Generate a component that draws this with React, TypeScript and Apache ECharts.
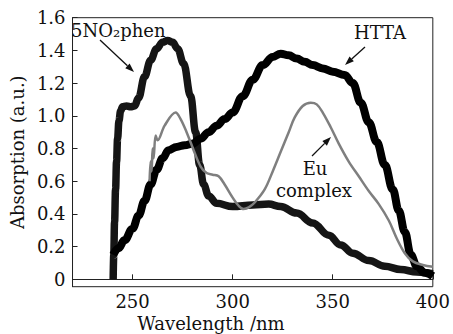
import React, { useEffect, useRef } from "react";
import * as echarts from "echarts";

// 5NO2phen (wavelength nm, absorption)
const phenWl = [240.3, 240.6, 241, 241.5, 242, 242.5, 243.2, 244, 245, 247, 249, 251, 253, 256, 259, 262, 265, 267.5, 270, 272.5, 275.5, 279, 281.5, 283.5, 285.5, 288, 292, 300, 310, 318, 324, 332, 340, 348, 354, 360, 368, 376, 384, 392, 400];
const phenAbs = [0.0, 0.15, 0.35, 0.55, 0.72, 0.86, 0.97, 1.03, 1.055, 1.06, 1.055, 1.06, 1.11, 1.24, 1.34, 1.41, 1.45, 1.46, 1.45, 1.41, 1.32, 1.12, 0.9, 0.7, 0.58, 0.51, 0.465, 0.445, 0.455, 0.46, 0.445, 0.405, 0.345, 0.27, 0.21, 0.16, 0.115, 0.08, 0.06, 0.045, 0.035];

// HTTA
const httaWl = [240.3, 243, 246, 250, 253, 256, 259, 262, 265, 268, 272, 276, 280, 284, 288, 292, 296, 300, 305, 310, 315, 320, 324, 328, 332, 336, 340, 345, 350, 356, 360, 364, 368, 372, 376, 380, 383, 386, 389, 392, 396, 400];
const httaAbs = [0.15, 0.19, 0.24, 0.31, 0.39, 0.48, 0.58, 0.67, 0.74, 0.79, 0.81, 0.82, 0.83, 0.86, 0.9, 0.94, 0.98, 1.02, 1.12, 1.22, 1.31, 1.36, 1.38, 1.37, 1.35, 1.33, 1.31, 1.29, 1.27, 1.25, 1.2, 1.08, 0.96, 0.84, 0.7, 0.55, 0.42, 0.29, 0.15, 0.08, 0.04, 0.02];

// Eu complex
const euWl = [258.5, 259, 259.5, 260, 260.5, 261.5, 262.5, 266, 271.5, 274, 277, 280.5, 284, 287, 290, 293, 296, 300, 303, 305.5, 308, 311, 316, 320, 324, 328, 331, 335, 339, 342, 345, 349, 353, 358, 363, 368, 373, 378, 382, 386, 390, 395, 400];
const euAbs = [0.6, 0.72, 0.66, 0.8, 0.74, 0.88, 0.85, 0.94, 1.02, 0.98, 0.9, 0.79, 0.69, 0.65, 0.64, 0.63, 0.58, 0.5, 0.45, 0.43, 0.44, 0.47, 0.55, 0.66, 0.78, 0.9, 0.99, 1.06, 1.08, 1.07, 1.02, 0.93, 0.83, 0.72, 0.63, 0.54, 0.46, 0.36, 0.25, 0.16, 0.11, 0.088, 0.077];

const xTicks = [250, 300, 350, 400];
const yTicks = [0, 0.2, 0.4, 0.6, 0.8, 1.0, 1.2, 1.4, 1.6];

const FONT = "'DejaVu Serif', 'Liberation Serif', serif";

function zip(a: number[], b: number[]) {
  return a.map((v, i) => [v, b[i]]);
}

function arrow(x1: number, y1: number, x2: number, y2: number) {
  const dx = x2 - x1;
  const dy = y2 - y1;
  const len = Math.sqrt(dx * dx + dy * dy);
  const ux = dx / len;
  const uy = dy / len;
  const hl = 9;
  const hw = 3.2;
  const bx = x2 - ux * hl;
  const by = y2 - uy * hl;
  return [
    {
      type: "line",
      shape: { x1, y1, x2: bx, y2: by },
      style: { stroke: "#111", lineWidth: 1.3 },
      z: 100,
    },
    {
      type: "polygon",
      shape: {
        points: [
          [x2, y2],
          [bx - uy * hw, by + ux * hw],
          [bx + uy * hw, by - ux * hw],
        ],
      },
      style: { fill: "#111" },
      z: 100,
    },
  ];
}

export default function App() {
  const ref = useRef<HTMLDivElement>(null);
  useEffect(() => {
    if (!ref.current) return;
    const chart = echarts.init(ref.current, null, { renderer: "svg" });
    const axisColor = "#222";
    chart.setOption({
      animation: false,
      backgroundColor: "#fff",
      grid: {
        left: 66,
        right: 18,
        top: 17.7,
        bottom: 47.3,
        show: true,
        borderColor: axisColor,
        borderWidth: 1,
        backgroundColor: "transparent",
      },
      xAxis: {
        type: "value",
        min: 220,
        max: 400,
        splitLine: { show: false },
        axisLine: { lineStyle: { color: axisColor, width: 1 } },
        axisTick: { inside: true, length: 5, customValues: xTicks, lineStyle: { color: axisColor } },
        axisLabel: {
          customValues: xTicks,
          color: "#111",
          fontFamily: FONT,
          fontSize: 18,
          margin: 6,
        },
      },
      yAxis: {
        type: "value",
        min: -0.045,
        max: 1.6,
        name: "Absorption (a.u.)",
        nameLocation: "middle",
        nameRotate: 90,
        nameGap: 36,
        nameTextStyle: { color: "#111", fontFamily: FONT, fontSize: 18 },
        splitLine: { show: false },
        axisLine: { lineStyle: { color: axisColor, width: 1 } },
        axisTick: { inside: true, length: 5, customValues: yTicks, lineStyle: { color: axisColor } },
        axisLabel: {
          customValues: yTicks,
          color: "#111",
          fontFamily: FONT,
          fontSize: 18,
          margin: 7,
          formatter: (v: number) => (Math.abs(v) < 1e-9 ? "0" : v.toFixed(1)),
        },
      },
      series: [
        {
          name: "5NO2phen",
          type: "line",
          data: zip(phenWl, phenAbs),
          showSymbol: false,
          smooth: 0.4,
          smoothMonotone: "x",
          lineStyle: { color: "#151515", width: 7.5 },
          z: 2,
        },
        {
          name: "HTTA",
          type: "line",
          data: zip(httaWl, httaAbs),
          showSymbol: false,
          smooth: 0.4,
          smoothMonotone: "x",
          lineStyle: { color: "#000", width: 8 },
          z: 3,
        },
        {
          name: "Eu complex",
          type: "line",
          data: zip(euWl, euAbs),
          showSymbol: false,
          smooth: 0.35,
          lineStyle: { color: "#7f7f7f", width: 2.5 },
          z: 4,
        },
      ],
      graphic: [
        {
          type: "text",
          z: 100,
          style: {
            text: "Wavelength /nm",
            x: 211,
            y: 323,
            textAlign: "center",
            textVerticalAlign: "middle",
            font: `18px ${FONT}`,
            fill: "#111",
          },
        },
        {
          type: "text",
          z: 100,
          style: {
            text: "5NO₂phen",
            x: 71,
            y: 30,
            textAlign: "left",
            textVerticalAlign: "middle",
            font: `18px ${FONT}`,
            fill: "#111",
          },
        },
        {
          type: "text",
          z: 100,
          style: {
            text: "HTTA",
            x: 380,
            y: 32,
            textAlign: "center",
            textVerticalAlign: "middle",
            font: `18px ${FONT}`,
            fill: "#111",
          },
        },
        {
          type: "text",
          z: 100,
          style: {
            text: "Eu",
            x: 315,
            y: 168,
            textAlign: "center",
            textVerticalAlign: "middle",
            font: `18px ${FONT}`,
            fill: "#111",
          },
        },
        {
          type: "text",
          z: 100,
          style: {
            text: "complex",
            x: 314,
            y: 190,
            textAlign: "center",
            textVerticalAlign: "middle",
            font: `18px ${FONT}`,
            fill: "#111",
          },
        },
        ...arrow(100, 40, 134, 72),
        ...arrow(365, 47, 345, 65),
        ...arrow(312, 156, 331, 137),
      ],
    });
    return () => chart.dispose();
  }, []);
  return (
    <div
      ref={ref}
      style={{ position: "absolute", left: 0, top: 0, width: 453, height: 334 }}
    />
  );
}
